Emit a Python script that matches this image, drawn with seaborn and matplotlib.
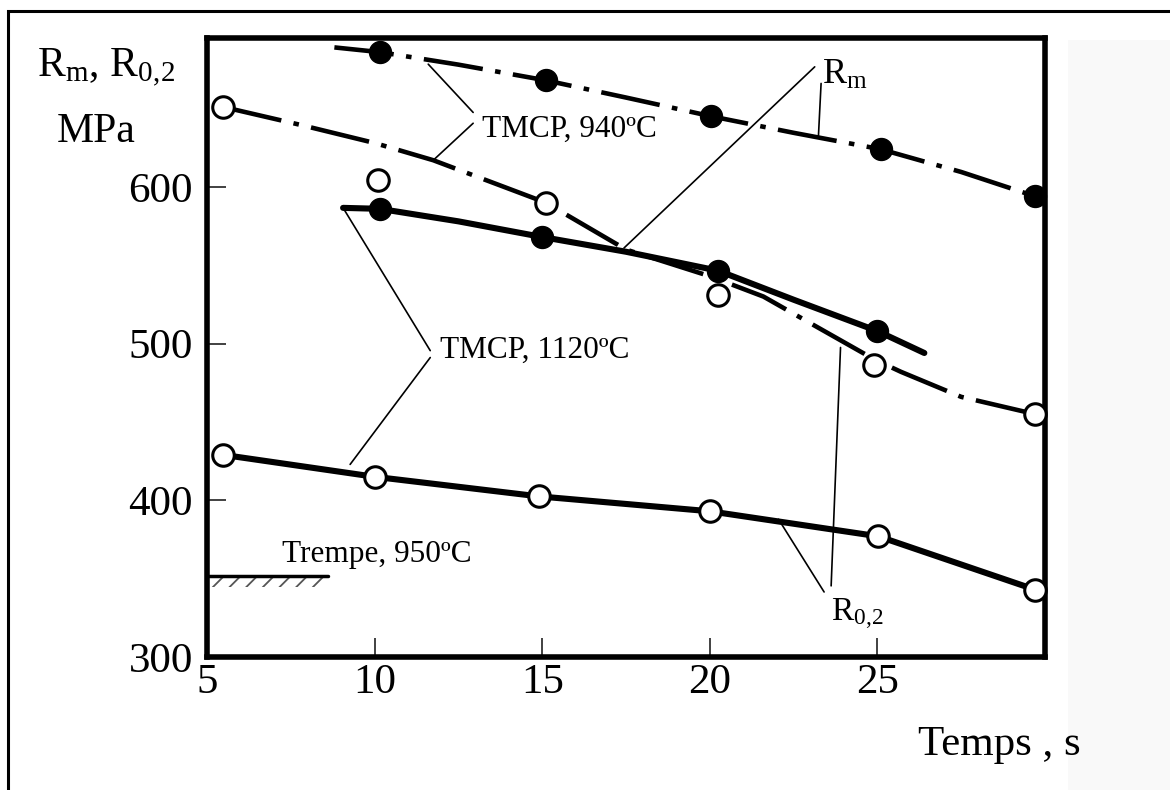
import matplotlib.pyplot as plt
import seaborn as sns

sns.set_style("ticks")
plt.rcParams['font.family'] = ['Liberation Serif', 'DejaVu Serif']
plt.rcParams['mathtext.fontset'] = 'custom'
plt.rcParams['mathtext.rm'] = 'Liberation Serif'
plt.rcParams['mathtext.it'] = 'Liberation Serif:italic'
plt.rcParams['text.color'] = 'black'
plt.rcParams['lines.scale_dashes'] = False
plt.rcParams['hatch.linewidth'] = 1.3
plt.rcParams['hatch.color'] = '#555555'

# TMCP, 940 C - Rm (filled points, dash-dot curve)
rm940_x = [10.15, 15.1, 20.05, 25.1, 29.7]
rm940_y = [686, 668, 645, 624, 594]
rm940_curve_x = [8.8, 10.15, 12.5, 15.1, 17.5, 20.05, 22.5, 25.1, 27.5, 29.7]
rm940_curve_y = [689, 686, 678, 668, 657, 645, 634.5, 624, 609.5, 594]

# TMCP, 940 C - R0,2 (open points, dash-dot curve)
r02_940_x = [5.48, 10.1, 15.1, 20.25, 24.9, 29.7]
r02_940_y = [651, 604.5, 590, 531, 486.5, 455]
r02_940_curve_x = [5.48, 7.8, 10.0, 11.75, 15.1, 17.5, 20.0, 21.6, 23.0, 24.9, 25.7, 27.5, 29.7]
r02_940_curve_y = [651, 639.5, 628, 617, 590, 560, 543, 530, 513, 490, 482, 466, 455]

# TMCP, 1120 C - Rm (filled points, solid curve)
rm1120_x = [10.15, 15.0, 20.25, 25.0]
rm1120_y = [586, 568, 546.5, 508]
rm1120_curve_x = [9.06, 10.15, 12.5, 15.0, 17.5, 20.25, 22.5, 25.0, 26.4]
rm1120_curve_y = [586.6, 586, 578, 568, 558.6, 546.5, 528, 508, 494]

# TMCP, 1120 C - R0,2 (open points, solid line)
r02_1120_x = [5.48, 10.0, 14.9, 20.0, 25.03, 29.7]
r02_1120_y = [429, 415, 402.5, 393, 377, 343]

# Trempe, 950 C level
trempe_x = [5.0, 8.6]
trempe_y = [351.6, 351.6]
trempe_low = [344.6, 344.6]

x_ticks = [5, 10, 15, 20, 25]
y_ticks = [300, 400, 500, 600]

fig = plt.figure(figsize=(11.7, 7.9), dpi=100)
fig.patches.append(plt.Rectangle((1068 / 1170, 0), 0.1, 0.95, transform=fig.transFigure,
                                 facecolor='#f9f9f9', edgecolor='none', zorder=0))
ax = fig.add_axes([207 / 1170, 1 - 657 / 790, 838 / 1170, 619 / 790])

dashdot = (0, (43, 9, 4, 9))
sns.lineplot(x=rm940_curve_x, y=rm940_curve_y, sort=False, color='black', linewidth=3.3,
             linestyle=dashdot, ax=ax)
sns.lineplot(x=r02_940_curve_x, y=r02_940_curve_y, sort=False, color='black', linewidth=3.3,
             linestyle=dashdot, ax=ax)
sns.lineplot(x=rm1120_curve_x, y=rm1120_curve_y, sort=False, color='black', linewidth=4.4, ax=ax)
sns.lineplot(x=r02_1120_x, y=r02_1120_y, sort=False, color='black', linewidth=4.4, ax=ax)
sns.lineplot(x=trempe_x, y=trempe_y, sort=False, color='black', linewidth=2.5, ax=ax)
ax.fill_between(trempe_x, trempe_low, trempe_y, facecolor='none', edgecolor='#555555',
                linewidth=0, hatch='//')

for xs, ys in [(rm940_x, rm940_y), (rm1120_x, rm1120_y)]:
    sns.scatterplot(x=xs, y=ys, s=250, color='black', edgecolor='black', linewidth=1,
                    zorder=5, clip_on=False, legend=False, ax=ax)
for xs, ys in [(r02_940_x, r02_940_y), (r02_1120_x, r02_1120_y)]:
    sns.scatterplot(x=xs, y=ys, s=240, color='white', edgecolor='black', linewidth=2.2,
                    zorder=5, clip_on=False, legend=False, ax=ax)

ax.set_xlim(5, 30)
ax.set_ylim(300, 695)
ax.set_xticks(x_ticks)
ax.set_yticks(y_ticks)
ax.set_xlabel('')
ax.set_ylabel('')
for s in ax.spines.values():
    s.set_linewidth(4)
    s.set_color('black')
ax.tick_params(direction='in', length=14, width=1.3, color='#333333', labelsize=31,
               labelcolor='black')
ax.tick_params(axis='x', pad=5)
ax.tick_params(axis='y', pad=10)

# leader lines
leader = dict(arrowstyle='-', lw=1.2, color='black', shrinkA=0, shrinkB=0)
leaders = [
    ((12.94, 647.5), (11.6, 678.3)),
    ((12.94, 640.6), (11.75, 617)),
    ((11.66, 495.5), (9.06, 586.6)),
    ((11.66, 491.1), (9.27, 422.9)),
    ((23.13, 676.6), (17.44, 561)),
    ((23.32, 666), (23.24, 632)),
    ((23.41, 341.5), (22.05, 387.9)),
    ((23.62, 345.4), (23.9, 497.5)),
]
for start, end in leaders:
    ax.annotate('', xy=end, xytext=start, arrowprops=leader)

ax.text(13.21, 631.8, 'TMCP, 940ºC', fontsize=22.5, va='baseline', ha='left')
ax.text(11.96, 491.1, 'TMCP, 1120ºC', fontsize=22.5, va='baseline', ha='left')
ax.text(7.24, 360.5, 'Trempe, 950ºC', fontsize=22.5, va='baseline', ha='left')
ax.text(23.36, 666, r'R$_\mathrm{m}$', fontsize=26, va='baseline', ha='left')
ax.text(23.63, 323, r'R$_\mathrm{0,\!2}$', fontsize=24, va='baseline', ha='left')

fig.text(37 / 1170, 1 - 77 / 790, r'R$_\mathrm{m}$, R$_\mathrm{0,\!2}$', fontsize=30,
         va='baseline', ha='left')
fig.text(57 / 1170, 1 - 142 / 790, 'MPa', fontsize=30, va='baseline', ha='left')
fig.text(918 / 1170, 1 - 755 / 790, 'Temps , s', fontsize=31, va='baseline', ha='left')

fig.patches.append(plt.Rectangle((8 / 1170, -0.1), 1.2, 1 - 11 / 790 + 0.1,
                                 transform=fig.transFigure, fill=False,
                                 edgecolor='black', linewidth=2.2))

fig.savefig('out.png', dpi=100)
